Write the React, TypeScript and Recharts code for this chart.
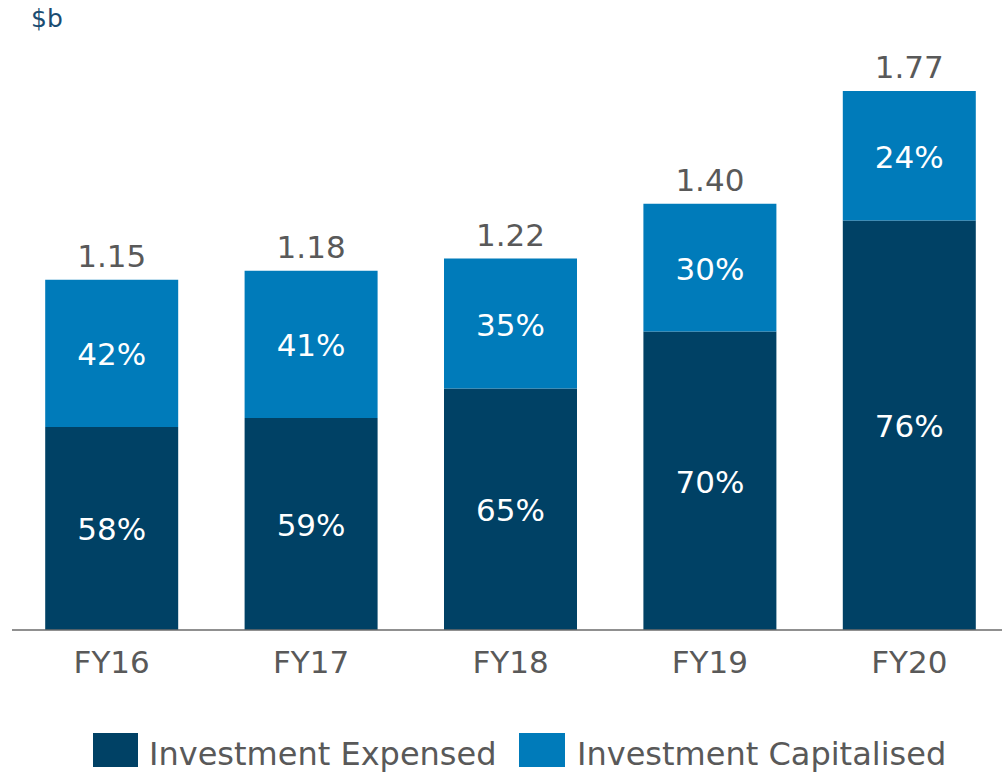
import React from "react";
import { BarChart, Bar, XAxis, YAxis, Legend, LabelList } from "recharts";

const categories = ["FY16", "FY17", "FY18", "FY19", "FY20"];
const totals = [1.15, 1.18, 1.22, 1.4, 1.77];
const totalLabels = ["1.15", "1.18", "1.22", "1.40", "1.77"];
const expensedPct = [58, 59, 65, 70, 76];
const capitalisedPct = [42, 41, 35, 30, 24];

const DARK = "#004165";
const LIGHT = "#007BBA";
const GREY = "#595959";
const FONT = "'DejaVu Sans', Verdana, sans-serif";

const data = categories.map((c, i) => ({
  name: c,
  expensed: (totals[i] * expensedPct[i]) / 100,
  capitalised: (totals[i] * capitalisedPct[i]) / 100,
  expPct: expensedPct[i],
  capPct: capitalisedPct[i],
  total: totalLabels[i],
}));

const Tick = (props: any) => {
  const { x, y, payload } = props;
  return (
    <text x={x} y={y + 43} textAnchor="middle" fontSize={31} fill={GREY} fontFamily={FONT}>
      {payload.value}
    </text>
  );
};

const PctLabel = (props: any) => {
  const { x, y, width, height, value } = props;
  return (
    <text
      x={x + width / 2}
      y={y + height / 2 + 12}
      textAnchor="middle"
      fontSize={31}
      fill="#ffffff"
      fontFamily={FONT}
    >
      {value}%
    </text>
  );
};

const TotalLabel = (props: any) => {
  const { x, y, width, index } = props;
  return (
    <text x={x + width / 2} y={y - 13} textAnchor="middle" fontSize={31} fill={GREY} fontFamily={FONT}>
      {totalLabels[index]}
    </text>
  );
};

const LegendContent = () => (
  <svg width={1002} height={60} style={{ display: "block" }}>
    <rect x={93} y={21} width={45} height={34} fill={DARK} />
    <text x={149} y={53} fontSize={32} fill={GREY} fontFamily={FONT}>
      Investment Expensed
    </text>
    <rect x={519} y={21} width={46} height={34} fill={LIGHT} />
    <text x={577} y={53} fontSize={32} fill={GREY} fontFamily={FONT}>
      Investment Capitalised
    </text>
  </svg>
);

export default function App() {
  return (
    <div
      style={{
        position: "absolute",
        left: 0,
        top: 0,
        width: 1002,
        height: 772,
        overflow: "hidden",
        background: "#ffffff",
        fontFamily: FONT,
      }}
    >
      <div
        style={{
          position: "absolute",
          left: 31,
          top: 6,
          fontSize: 25,
          lineHeight: "25px",
          color: "#1A4C72",
          fontFamily: FONT,
          zIndex: 2,
        }}
      >
        $b
      </div>
      <BarChart
        width={1010}
        height={772}
        data={data}
        margin={{ top: 21, right: 1, left: 12, bottom: 0 }}
        barCategoryGap="16.65%"
      >
        <YAxis hide domain={[0, 2]} />
        <XAxis
          dataKey="name"
          axisLine={{ stroke: "#6b6b6b", strokeWidth: 1.5 }}
          tickLine={false}
          tickSize={0}
          tickMargin={0}
          height={82}
          tick={<Tick />}
          interval={0}
        />
        <Legend
          verticalAlign="bottom"
          height={60}
          wrapperStyle={{ left: 0, bottom: 0, width: 1002, height: 60 }}
          content={<LegendContent />}
        />
        <Bar dataKey="expensed" stackId="a" fill={DARK} isAnimationActive={false} name="Investment Expensed">
          <LabelList dataKey="expPct" content={<PctLabel />} />
        </Bar>
        <Bar dataKey="capitalised" stackId="a" fill={LIGHT} isAnimationActive={false} name="Investment Capitalised">
          <LabelList dataKey="capPct" content={<PctLabel />} />
          <LabelList dataKey="total" content={<TotalLabel />} />
        </Bar>
      </BarChart>
    </div>
  );
}
